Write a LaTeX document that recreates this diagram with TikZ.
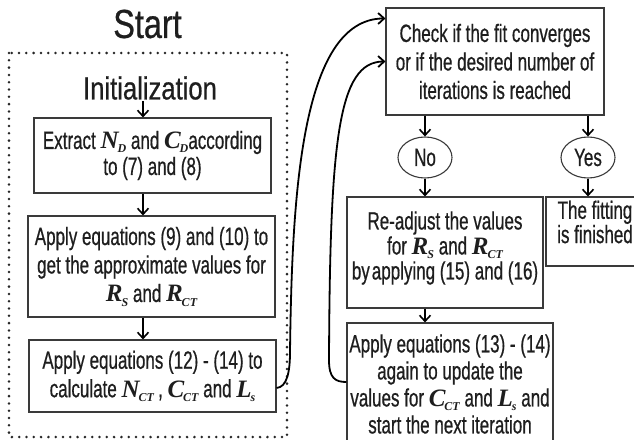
\documentclass[tikz,border=0pt]{standalone}
\usepackage{fontspec}
\setmainfont[FakeStretch=0.68,FakeBold=0.6]{Liberation Sans}
\newfontfamily\ttlfont[FakeStretch=0.8,FakeBold=0.6]{Liberation Sans}
\newfontfamily\tms{Liberation Serif}
\usetikzlibrary{arrows.meta,shapes.geometric,calc}
\definecolor{txtc}{HTML}{1E1E1E}
\definecolor{boxc}{HTML}{3A3A3A}
\newcommand\mv[2]{{\tms\bfseries\itshape #1\kern-0.04em\raisebox{-0.35ex}{\fontsize{12}{12}\selectfont #2}}}
\begin{document}
\begin{tikzpicture}[x=1pt,y=-1pt,
  box/.style={draw=boxc, line width=1.1pt, align=center, inner sep=0pt, text=txtc,
    font=\fontsize{25}{28.5}\selectfont},
  txt/.style={align=center, inner sep=0pt, text=txtc, font=\fontsize{25}{28.5}\selectfont},
  oval/.style={draw=boxc, line width=1.1pt, ellipse, inner sep=0pt, text=txtc,
    minimum width=54pt, minimum height=41pt, font=\fontsize{25}{26}\selectfont},
  arr/.style={-{Straight Barb[length=6pt,width=11pt]}, line width=1.6pt, draw=black},
  conn/.style={-{Straight Barb[length=6pt,width=11pt]}, line width=1.8pt, draw=black}]
\useasboundingbox (0,0) rectangle (634,439);
\clip (0,0) rectangle (634,439);
\fill[white] (0,0) rectangle (634,439);

% left column
\node[txt, font=\ttlfont\fontsize{40.5}{44}\selectfont] (start) at (147.5,24) {Start};
\draw[line width=2.8pt, line cap=round, dash pattern=on 0pt off 7.3pt, draw=black!85] (9,53) rectangle (287,437);
\node[txt, font=\ttlfont\fontsize{32}{36}\selectfont] (init) at (150,88) {Initialization};
\coordinate (colL) at (143,101);

\node[box, minimum width=237pt, minimum height=75pt, font=\fontsize{25}{26}\selectfont] (b1) at (152.5,155.5)
  {Extract \mv{N}{D} and \mv{C}{D}according\\to (7) and (8)};
\node[box, minimum width=247pt, minimum height=101pt] (b2) at (151.5,266.5)
  {Apply equations (9) and (10) to\\get the approximate values for\\\mv{R}{S} and \mv{R}{CT}};
\node[box, minimum width=247pt, minimum height=72pt] (b3) at (152.5,376)
  {Apply equations (12) - (14) to\\calculate \mv{N}{CT}\,, \mv{C}{CT} and \mv{L}{s}};

\draw[arr] (colL) -- (b1.north -| colL);
\draw[arr] (b1.south -| colL) -- (b2.north -| colL);
\draw[arr] (b2.south -| colL) -- (b3.north -| colL);

% right column
\node[box, minimum width=218pt, minimum height=107pt] (chk) at (495,61.5)
  {Check if the fit converges\\or if the desired number of\\iterations is reached};
\node[oval] (no) at (425,157.5) {No};
\node[oval] (yes) at (588,157.5) {Yes};
\node[box, minimum width=196pt, minimum height=111pt] (reaj) at (445,252.5) {};
\node[txt, font=\fontsize{25}{25}\selectfont] (reajt) at (445,248)
  {Re-adjust the values\\for \mv{R}{S} and \mv{R}{CT}\\by\hspace{0.08em}applying (15) and (16)};
\node[box, minimum width=134pt, minimum height=69pt] (fit) at (613,231.5) {};
\node[txt, font=\fontsize{25}{18.5}\selectfont] (fitt) at (595,222) {The fitting\\is finished};
\node[box, minimum width=206pt, minimum height=137pt] (a2) at (450,391.5) {};
\node[txt, font=\fontsize{25}{27}\selectfont] (a2t) at (450,384)
  {Apply equations (13) - (14)\\again to update the\\values for \mv{C}{CT} and \mv{L}{s} and\\start the next iteration};

\draw[arr] (no.north |- chk.south) -- (no.north);
\draw[arr] (yes.north |- chk.south) -- (yes.north);
\draw[arr] (no.south) -- (no.south |- reaj.north);
\draw[arr] (yes.south) -- (yes.south |- fit.north);
\draw[arr] (no.south |- reaj.south) -- (no.south |- a2.north);

% feedback connectors
\draw[conn] ($(b3.east)+(0,12)$) .. controls (287,387) and (290,372) .. (290,352)
  .. controls (292,200) and (300,19) .. ($(chk.north west)+(0,11)$);
\draw[conn] ($(a2.west)+(0,-9.5)$) .. controls (335,382) and (329,378) .. (329,360)
  .. controls (330,140) and (338,62) .. ($(chk.north west)+(0,54)$);
\end{tikzpicture}
\end{document}
